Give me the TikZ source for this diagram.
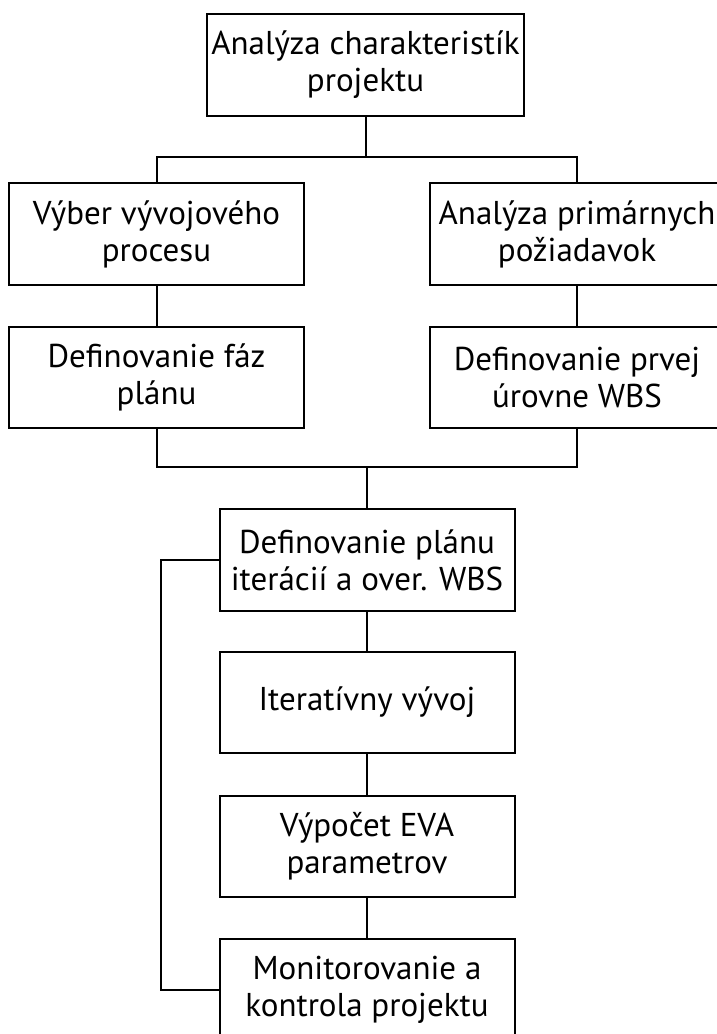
\documentclass[tikz,border=0pt]{standalone}
\usepackage{fontspec}
\setmainfont{PT Sans}
\begin{document}
\begin{tikzpicture}[x=1pt,y=-1pt,
  box/.style={draw, line width=2pt, inner sep=0pt, align=center,
    font=\fontsize{33}{37}\selectfont, text=black},
  wbox/.style={box, minimum width=295pt, minimum height=101pt},
  conn/.style={draw, line width=2pt}]
\useasboundingbox (0,0) rectangle (716,1034);
\node[box, minimum width=317pt, minimum height=102pt] (top) at (365.5,65) {Analýza charakteristík\\projektu};
\node[wbox, minimum height=102pt] (L1) at (156.5,234) {Výber vývojového\\procesu};
\node[wbox, minimum height=102pt] (R1) at (577,234) {Analýza primárnych\\požiadavok};
\node[wbox] (L2) at (156.5,377.5) {Definovanie fáz\\plánu};
\node[wbox] (R2) at (577,377.5) {Definovanie prvej\\úrovne WBS};
\node[wbox, minimum height=102pt] (plan) at (367,560) {Definovanie plánu\\iterácií a over. WBS};
\node[wbox] (iter) at (367,702.5) {Iteratívny vývoj};
\node[wbox] (eva) at (367,846.5) {Výpočet EVA\\parametrov};
\node[wbox] (mon) at (367,989.5) {Monitorovanie a\\kontrola projektu};
\coordinate (j1) at (365.5,157);
\coordinate (j2) at (367,467);
\draw[conn] (top.south) -- (j1);
\draw[conn] (L1.north) |- (j1) -| (R1.north);
\draw[conn] (L1.south) -- (L2.north);
\draw[conn] (R1.south) -- (R2.north);
\draw[conn] (L2.south) |- (j2) -| (R2.south);
\draw[conn] (j2) -- (plan.north);
\draw[conn] (plan.south) -- (iter.north);
\draw[conn] (iter.south) -- (eva.north);
\draw[conn] (eva.south) -- (mon.north);
\draw[conn] (mon.west) -- ++(-58,0) |- (plan.west);
\end{tikzpicture}
\end{document}
